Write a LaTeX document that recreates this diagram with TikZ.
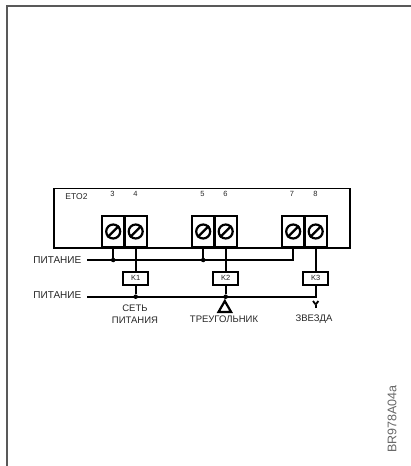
\documentclass[tikz,border=0pt]{standalone}
\usepackage{fontspec}
\setmainfont{Liberation Sans}
\usetikzlibrary{shapes.geometric}
\tikzset{
	terminal/.style={rectangle, draw, line width=2.2pt, fill=white, minimum width=22.5pt, minimum height=31.5pt, inner sep=0pt},
	screw/.style={circle, draw, line width=2.2pt, minimum size=14pt, inner sep=0pt},
	slot/.style={line width=2.2pt},
	relay/.style={rectangle, draw, line width=2pt, fill=white, minimum width=25pt, minimum height=12.5pt, inner sep=0pt, font=\fontsize{7.5}{8}\selectfont, text=black!85},
	wire/.style={line width=1.8pt},
	tag/.style={inner sep=0pt, font=\fontsize{9.5}{11}\selectfont, text=black!85},
	pin/.style={inner sep=0pt, font=\fontsize{7.5}{8}\selectfont, text=black!85},
	dot/.style={circle, fill, minimum size=4.5pt, inner sep=0pt}
}
\begin{document}
\begin{tikzpicture}[x=1pt, y=-1pt]
	\useasboundingbox (0, 0) rectangle (411, 466);
	\draw [black!65, line width=1.4pt] (7, 466) -- (7, 6) -- (411, 6);
	\draw (52.7, 187.5) node [rectangle, draw, line width=1.8pt, minimum width=296.5pt, minimum height=59.5pt, anchor=north west, inner sep=0pt] (unit) {};
	\draw (76.5, 197) node [tag, font=\fontsize{8.5}{9}\selectfont] (name) {ETO2};
	\draw (112.5, 194) node [pin] (n3) {3};
	\draw (135.5, 194) node [pin] (n4) {4};
	\draw (202.5, 194) node [pin] (n5) {5};
	\draw (225.5, 194) node [pin] (n6) {6};
	\draw (292, 194) node [pin] (n7) {7};
	\draw (315.5, 194) node [pin] (n8) {8};
	\draw (113.2, 231.5) node [terminal] (t3) {};
	\draw (135.7, 231.5) node [terminal] (t4) {};
	\draw (203.2, 231.5) node [terminal] (t5) {};
	\draw (225.7, 231.5) node [terminal] (t6) {};
	\draw (293.2, 231.5) node [terminal] (t7) {};
	\draw (315.7, 231.5) node [terminal] (t8) {};
	\draw (113.2, 231.5) node [screw] (s3) {};
	\draw (135.7, 231.5) node [screw] (s4) {};
	\draw (203.2, 231.5) node [screw] (s5) {};
	\draw (225.7, 231.5) node [screw] (s6) {};
	\draw (293.2, 231.5) node [screw] (s7) {};
	\draw (315.7, 231.5) node [screw] (s8) {};
	\path [slot] (s3.225) edge (s3.45);
	\path [slot] (s4.225) edge (s4.45);
	\path [slot] (s5.225) edge (s5.45);
	\path [slot] (s6.225) edge (s6.45);
	\path [slot] (s7.225) edge (s7.45);
	\path [slot] (s8.225) edge (s8.45);
	\coordinate (a) at (88, 260);
	\coordinate (b) at (293.2, 260);
	\coordinate (c) at (88, 296.7);
	\coordinate (d) at (315.7, 296.7);
	\draw (113.2, 260) node [dot] (d3) {};
	\draw (203.2, 260) node [dot] (d5) {};
	\draw (135.7, 296.7) node [dot] (d4) {};
	\draw (225.7, 296.7) node [dot] (d6) {};
	\path [wire, line cap=rect] (a) edge (b);
	\path [wire, line cap=rect] (c) edge (d);
	\path [wire] (t3) edge (d3);
	\path [wire] (t5) edge (d5);
	\path [wire, line cap=rect] (t7) edge (b);
	\draw (135.7, 278.3) node [relay] (k1) {K1};
	\draw (225.7, 278.3) node [relay] (k2) {K2};
	\draw (315.7, 278.3) node [relay] (k3) {K3};
	\path [wire] (t4) edge (k1);
	\path [wire] (t6) edge (k2);
	\path [wire] (t8) edge (k3);
	\path [wire] (k1) edge (d4);
	\path [wire] (k2) edge (d6);
	\path [wire, line cap=rect] (k3) edge (d);
	\draw (224.8, 308.3) node [regular polygon, regular polygon sides=3, draw, line width=2.2pt, minimum size=14.5pt, inner sep=0pt] (delta) {};
	\path [wire] (d6) edge (delta.north);
	\coordinate (y0) at (315.7, 308);
	\coordinate (y1) at (315.7, 304.5);
	\coordinate (y2) at (313, 301);
	\coordinate (y3) at (318.4, 301);
	\path [slot] (y0) edge (y1);
	\path [wire] (y1) edge (y2);
	\path [wire] (y1) edge (y3);
	\draw (81.5, 260) node [tag, font=\fontsize{10}{11}\selectfont, anchor=east] (live) {ПИТАНИЕ};
	\draw (81.5, 295) node [tag, font=\fontsize{10}{11}\selectfont, anchor=east] (neutral) {ПИТАНИЕ};
	\draw (135, 308.5) node [tag] (mains) {СЕТЬ};
	\draw (135, 320.5) node [tag] (supply) {ПИТАНИЯ};
	\draw (224, 319.5) node [tag] (tri) {ТРЕУГОЛЬНИК};
	\draw (314, 319.5) node [tag] (star) {ЗВЕЗДА};
	\draw (392, 419) node [tag, rotate=90, font=\fontsize{12.5}{13}\selectfont, text=black!60] (code) {BR978A04a};
\end{tikzpicture}
\end{document}
